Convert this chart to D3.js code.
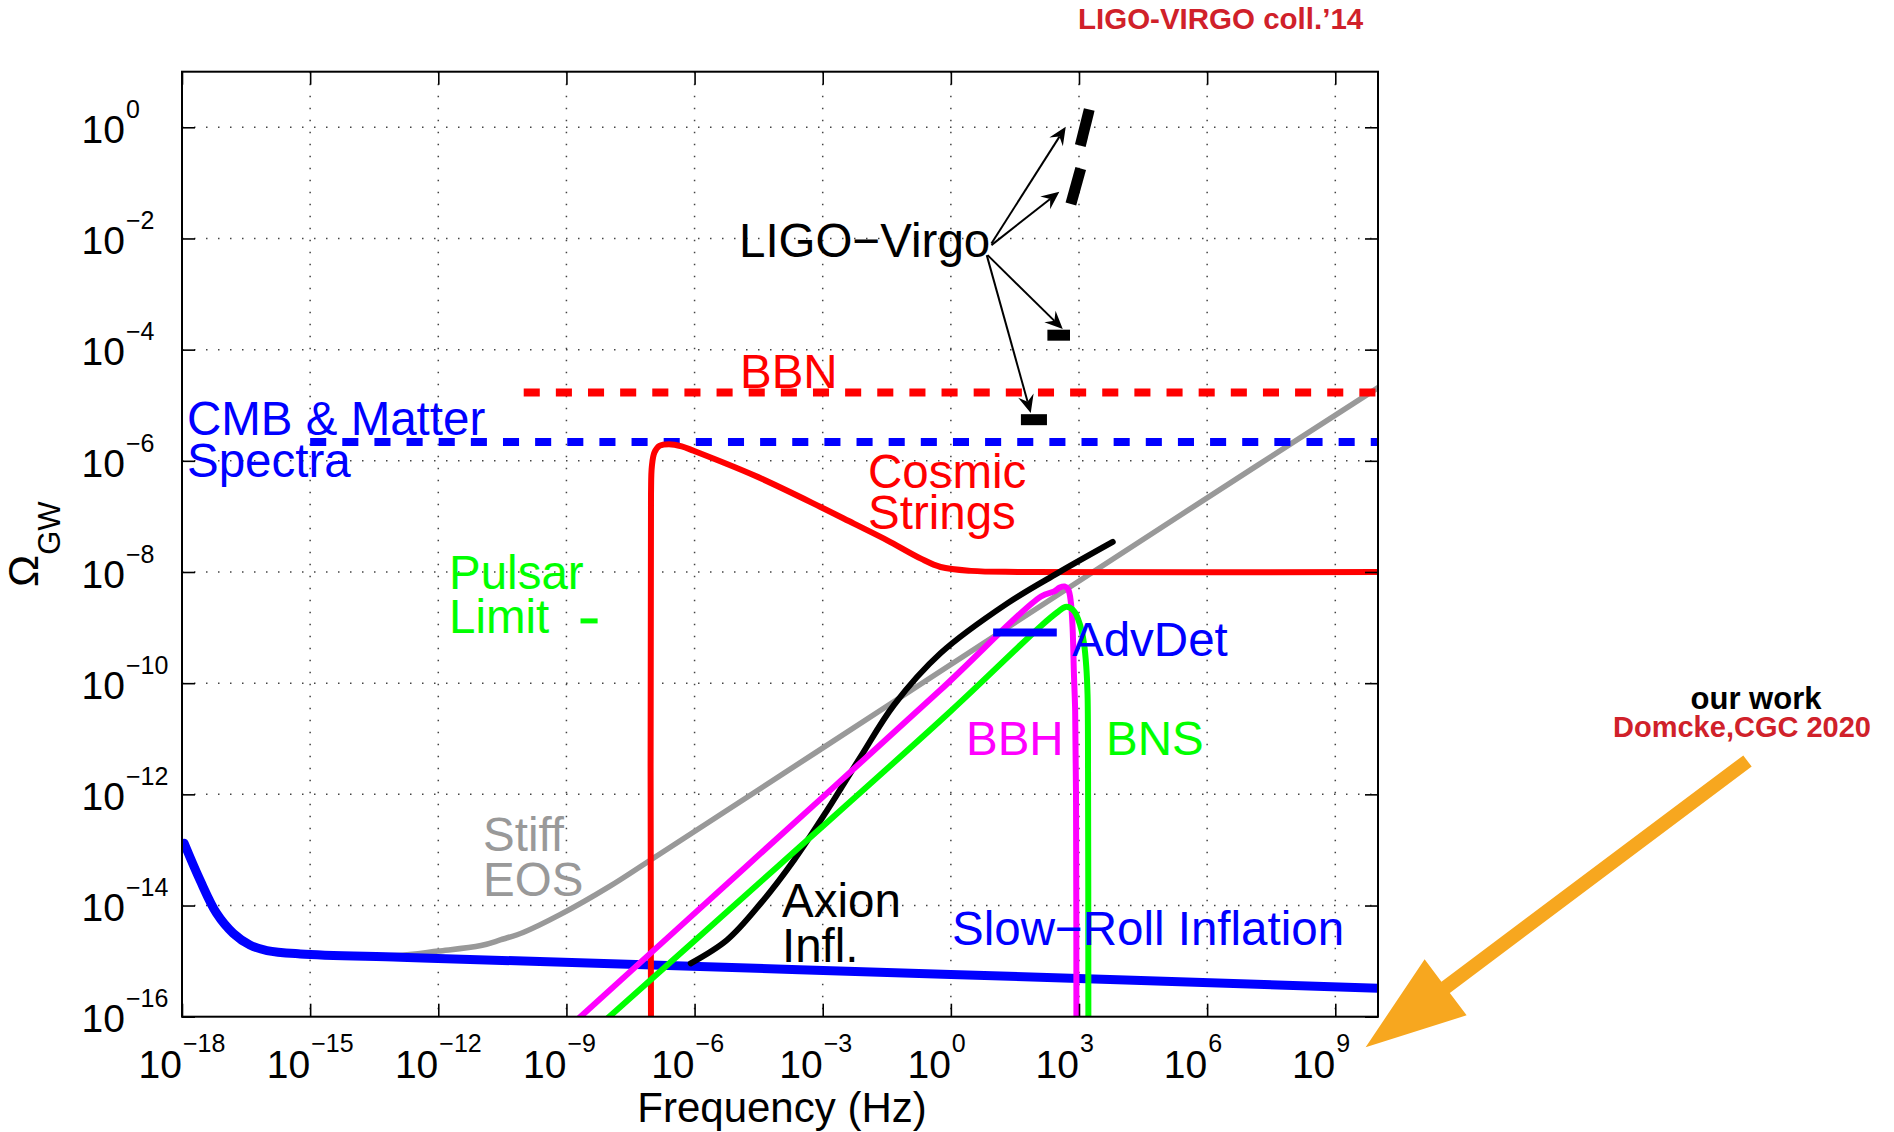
<!DOCTYPE html>
<html><head><meta charset="utf-8">
<script src="https://cdn.jsdelivr.net/npm/d3@7"></script>
<style>
body{margin:0;background:#fff}
svg{display:block}
text{font-family:"Liberation Sans",Arial,Helvetica,sans-serif}
</style>
</head><body>
<svg id="c" width="1894" height="1132"></svg>
<script>
// ---------- data: pairs of [log10 f (Hz), log10 Omega_GW] ----------
const xTickExps = [-18,-15,-12,-9,-6,-3,0,3,6,9];
const yTickExps = [0,-2,-4,-6,-8,-10,-12,-14,-16];

const slowRoll = [[-17.95,-12.88],[-17.58,-13.54],[-17.19,-14.14],[-16.8,-14.5],[-16.41,-14.71],[-16.01,-14.81],[-15.23,-14.87],[-12.89,-14.93],[-10,-15.0],[0,-15.24],[10.03,-15.49]];
const stiffEOS = [[-15,-14.87],[-13,-14.9],[-12,-14.82],[-11,-14.72],[-10.55,-14.62],[-10,-14.48],[-9.14,-14.16],[-8,-13.66],[-7.03,-13.18],[-1.33,-10.33],[5.39,-6.97],[10.03,-4.67]];
const cosmicStrings = [[-7.02,-16.5],[-7.02,-6.6],[-7.0,-6.1],[-6.94,-5.85],[-6.82,-5.73],[-6.6,-5.70],[-6.3,-5.74],[-6.02,-5.82],[-4.61,-6.26],[-3.05,-6.83],[-2.27,-7.13],[-1.49,-7.43],[-0.70,-7.76],[-0.24,-7.91],[0.47,-7.98],[1.64,-8.0],[10.03,-8.0]];
const axionInfl = [[-6.09,-15.04],[-5.24,-14.62],[-4.45,-13.96],[-3.67,-13.18],[-2.89,-12.28],[-2.11,-11.32],[-1.33,-10.39],[-0.24,-9.46],[1.33,-8.56],[2.50,-8.02],[3.79,-7.46]];
const bbh = [[-8.9,-16.16],[-4.81,-13.31],[-0.24,-10.12],[2.11,-8.44],[2.42,-8.35],[2.55,-8.28],[2.66,-8.26],[2.75,-8.32],[2.81,-8.55],[2.85,-9.0],[2.88,-9.8],[2.91,-10.5],[2.93,-12],[2.94,-16.5]];
const bns = [[-8.2,-16.14],[-4.0,-13.26],[0.0,-10.5],[2.11,-8.97],[2.5,-8.72],[2.68,-8.63],[2.78,-8.64],[2.9,-8.72],[2.98,-8.85],[3.06,-9.05],[3.12,-9.3],[3.17,-9.7],[3.2,-10.2],[3.21,-11],[3.22,-16.5]];
const bbnBound = [[-10,-4.77],[10.03,-4.77]];
const cmbBound = [[-15,-5.66],[10.03,-5.66]];
const advDet = [[0.99,-9.09],[2.48,-9.09]];
const pulsarLimit = [[-8.67,-8.88],[-8.27,-8.88]];
const ligoSegments = [
  [[3.03,-0.33],[3.24,0.32]],
  [[2.81,-1.38],[3.04,-0.74]],
  [[2.26,-3.74],[2.79,-3.74]],
  [[1.64,-5.26],[2.25,-5.26]]
];
const ligoArrows = [
  [[0.95,-2.09],[2.69,0.01]],
  [[0.95,-2.12],[2.54,-1.16]],
  [[0.86,-2.30],[2.62,-3.63]],
  [[0.84,-2.30],[1.87,-5.14]]
];
const ourWorkArrow = [[18.65,-11.40],[9.71,-16.55]];

// ---------- scales ----------
const svg = d3.select("#c");
const x = d3.scaleLog().domain([1e-18,1e10]).range([182,1378]);
const y = d3.scaleLog().domain([1e-16,1e1]).range([1016.7,71.7]);
const P = d => [x(Math.pow(10,d[0])), y(Math.pow(10,d[1]))];
const X0 = x.range()[0], X1 = x.range()[1], Y0 = y.range()[1], Y1 = y.range()[0];

svg.append("rect").attr("width",1894).attr("height",1132).attr("fill","#fff");

// ---------- grid ----------
const grid = svg.append("g").attr("stroke","#444").attr("stroke-width",1.5).attr("stroke-dasharray","1.5,10.5");
xTickExps.filter(e=>e>-18).forEach(e=>{
  const xx = x(Math.pow(10,e));
  grid.append("line").attr("x1",xx).attr("x2",xx).attr("y1",Y0).attr("y2",Y1);
});
yTickExps.filter(e=>e>-16).forEach(e=>{
  const yy = y(Math.pow(10,e));
  grid.append("line").attr("x1",X0).attr("x2",X1).attr("y1",yy).attr("y2",yy);
});

// ---------- clipped data ----------
svg.append("clipPath").attr("id","plotclip").append("rect")
  .attr("x",X0).attr("y",Y0).attr("width",X1-X0).attr("height",Y1-Y0);
const g = svg.append("g").attr("clip-path","url(#plotclip)");

const smooth = d3.line().x(d=>P(d)[0]).y(d=>P(d)[1]).curve(d3.curveCatmullRom.alpha(0.5));
const straight = d3.line().x(d=>P(d)[0]).y(d=>P(d)[1]);

function draw(data, color, width, gen, dash, cap){
  g.append("path").attr("d",gen(data)).attr("fill","none").attr("stroke",color)
   .attr("stroke-width",width).attr("stroke-linejoin","round")
   .attr("stroke-linecap",cap||"round")
   .attr("stroke-dasharray",dash||null);
}
draw(stiffEOS,"#999999",5.5,smooth);
draw(slowRoll,"#0000ff",9,smooth);
draw(bbnBound,"#ff0000",8,straight,"16.07,16.07","butt");
draw(cmbBound,"#0000ff",8,straight,"16.07,16.07","butt");
draw(cosmicStrings,"#ff0000",6,smooth);
draw(axionInfl,"#000000",6,smooth);
draw(bbh,"#ff00ff",6,smooth);
draw(bns,"#00ff00",6,smooth);
draw(advDet,"#0000ff",8,straight,null,"butt");
draw(pulsarLimit,"#00ff00",5,straight,null,"butt");
ligoSegments.forEach(s=>draw(s,"#000000",11,straight,null,"butt"));

// LIGO arrows
ligoArrows.forEach(a=>{
  const s = P(a[0]), t = P(a[1]);
  const dx=t[0]-s[0], dy=t[1]-s[1], L=Math.hypot(dx,dy);
  const ux=dx/L, uy=dy/L, nx=-uy, ny=ux;
  const hl=18, hw=8;
  const bx=t[0]-ux*hl, by=t[1]-uy*hl;
  const nxp=t[0]-ux*hl*0.65, nyp=t[1]-uy*hl*0.65;
  svg.append("line").attr("x1",s[0]).attr("y1",s[1]).attr("x2",nxp).attr("y2",nyp)
    .attr("stroke","#000").attr("stroke-width",2);
  svg.append("path").attr("d",`M${t[0]},${t[1]}L${bx+nx*hw},${by+ny*hw}L${nxp},${nyp}L${bx-nx*hw},${by-ny*hw}Z`)
    .attr("fill","#000");
});

// ---------- axes ----------
const tickLen = 13;
const xv = xTickExps.map(e=>Math.pow(10,e)), yv = yTickExps.map(e=>Math.pow(10,e));
function styleAxis(sel){
  sel.select(".domain").remove();
  sel.selectAll("text").remove();
  sel.selectAll("line").attr("stroke","#000").attr("stroke-width",1.6);
}
svg.append("g").attr("transform",`translate(0,${Y1})`)
  .call(d3.axisBottom(x).tickValues(xv).tickSizeInner(-tickLen).tickSizeOuter(0)).call(styleAxis);
svg.append("g").attr("transform",`translate(0,${Y0})`)
  .call(d3.axisTop(x).tickValues(xv).tickSizeInner(-tickLen).tickSizeOuter(0)).call(styleAxis);
svg.append("g").attr("transform",`translate(${X0},0)`)
  .call(d3.axisLeft(y).tickValues(yv).tickSizeInner(-tickLen).tickSizeOuter(0)).call(styleAxis);
svg.append("g").attr("transform",`translate(${X1},0)`)
  .call(d3.axisRight(y).tickValues(yv).tickSizeInner(-tickLen).tickSizeOuter(0)).call(styleAxis);

svg.append("rect").attr("x",X0).attr("y",Y0).attr("width",X1-X0).attr("height",Y1-Y0)
  .attr("fill","none").attr("stroke","#000").attr("stroke-width",2);

// tick labels
const expStr = e => (e<0 ? "\u2212"+Math.abs(e) : String(e));
xTickExps.forEach(e=>{
  const xx = x(Math.pow(10,e));
  svg.append("text").attr("x",xx).attr("y",1078).attr("text-anchor","end")
    .attr("font-size",39).text("10");
  svg.append("text").attr("x",xx+1).attr("y",1052).attr("font-size",25).text(expStr(e));
});
yTickExps.forEach(e=>{
  const yy = y(Math.pow(10,e));
  svg.append("text").attr("x",125).attr("y",yy+15.7).attr("text-anchor","end")
    .attr("font-size",39).text("10");
  svg.append("text").attr("x",126).attr("y",yy-9.3).attr("font-size",25).text(expStr(e));
});

// axis titles
svg.append("text").attr("x",(X0+X1)/2+2).attr("y",1122).attr("text-anchor","middle")
  .attr("font-size",42).text("Frequency (Hz)");
const yl = svg.append("text").attr("transform",`translate(38,${(Y0+Y1)/2}) rotate(-90)`)
  .attr("text-anchor","middle");
yl.append("tspan").attr("font-size",43).text("\u03A9");
yl.append("tspan").attr("font-size",31).attr("dy",22).text("GW");

// ---------- annotations ----------
const labels = [
  ["LIGO\u2212Virgo",739,257,"#000000"],
  ["BBN",740,388,"#ff0000"],
  ["CMB & Matter",187,435,"#0000ff"],
  ["Spectra",187,477,"#0000ff"],
  ["Cosmic",868,488,"#ff0000"],
  ["Strings",868,529,"#ff0000"],
  ["Pulsar",449,589,"#00ff00"],
  ["Limit",449,633,"#00ff00"],
  ["AdvDet",1072,656,"#0000ff"],
  ["BBH",966,755,"#ff00ff"],
  ["BNS",1106,755,"#00ff00"],
  ["Stiff",483,851,"#999999"],
  ["EOS",483,896,"#999999"],
  ["Axion",782,917,"#000000"],
  ["Infl.",782,962,"#000000"],
  ["Slow\u2212Roll Inflation",952,945,"#0000ff"]
];
labels.forEach(l=>svg.append("text").attr("x",l[1]).attr("y",l[2]).attr("fill",l[3])
  .attr("font-size",47.5).text(l[0]));

svg.append("text").attr("x",1078).attr("y",29).attr("fill","#d0212a").attr("font-size",29.5)
  .attr("font-weight","bold").text("LIGO-VIRGO coll.\u201914");
svg.append("text").attr("x",1756).attr("y",709).attr("text-anchor","middle").attr("fill","#000")
  .attr("font-size",31).attr("font-weight","bold").text("our work");
svg.append("text").attr("x",1742).attr("y",737).attr("text-anchor","middle").attr("fill","#d0212a")
  .attr("font-size",29).attr("font-weight","bold").text("Domcke,CGC 2020");

// orange arrow
(function(){
  const s = P(ourWorkArrow[0]), t = P(ourWorkArrow[1]);
  const dx=t[0]-s[0], dy=t[1]-s[1], L=Math.hypot(dx,dy);
  const ux=dx/L, uy=dy/L, nx=-uy, ny=ux;
  const hl=100, hw=35, sw=7;
  const bx=t[0]-ux*hl, by=t[1]-uy*hl;
  const pts=[[s[0]+nx*sw,s[1]+ny*sw],[bx+nx*sw,by+ny*sw],[bx+nx*hw,by+ny*hw],[t[0],t[1]],
             [bx-nx*hw,by-ny*hw],[bx-nx*sw,by-ny*sw],[s[0]-nx*sw,s[1]-ny*sw]];
  svg.append("path").attr("d","M"+pts.map(p=>p.join(",")).join("L")+"Z").attr("fill","#f7a71f");
})();
</script>
</body></html>
